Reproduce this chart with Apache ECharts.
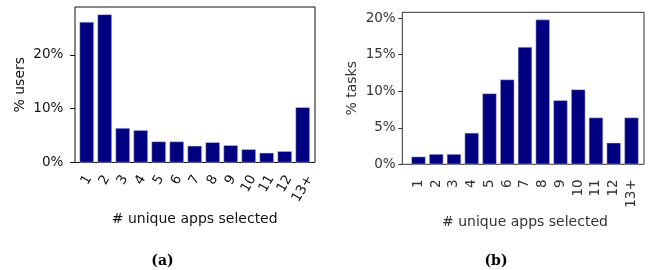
<!DOCTYPE html>
<html>
<head>
<meta charset="utf-8">
<script src="https://cdn.jsdelivr.net/npm/echarts@6/dist/echarts.min.js"></script>
<style>
  html, body { margin: 0; padding: 0; background: #fff; }
  #chart { width: 652px; height: 270px; }
</style>
</head>
<body>
<div id="chart"></div>
<script>
  // categories shared by both panels
  var categories = ['1', '2', '3', '4', '5', '6', '7', '8', '9', '10', '11', '12', '13+'];
  // (a) share of users per number of unique apps selected
  var usersPct = [26.1, 27.5, 6.4, 6.0, 3.9, 3.9, 3.1, 3.75, 3.2, 2.45, 1.8, 2.1, 10.25];
  // (b) share of tasks per number of unique apps selected
  var tasksPct = [1.05, 1.4, 1.4, 4.3, 9.7, 11.6, 16.05, 19.8, 8.75, 10.25, 6.4, 2.95, 6.4];
  var usersTicks = [0, 10, 20];
  var tasksTicks = [0, 5, 10, 15, 20];

  var barColor = '#000080';
  var font = 'DejaVu Sans';
  var tickFont = 13.5;

  function pct(v) { return v + '%'; }

  // matplotlib centres a rotated label's box under its tick and hangs it from the top;
  // echarts centres on a fixed point, so each label gets its own padding to shift it down
  var rot = 60 * Math.PI / 180;
  var lineH = tickFont * 1.164;
  var ctx = document.createElement('canvas').getContext('2d');
  ctx.font = tickFont + 'px "' + font + '"';
  function boxH(s) {
    return ctx.measureText(s).width * Math.sin(rot) + lineH * Math.cos(rot);
  }
  var labelTop = 10;
  var labelMargin = labelTop + boxH('1') / 2;
  var richA = {};
  categories.forEach(function (c, i) {
    var d = labelTop + boxH(c) / 2 - labelMargin;
    richA['c' + i] = {
      fontFamily: font, fontSize: tickFont, color: '#111',
      padding: [2 * d * Math.cos(rot), 2 * d * Math.sin(rot), 0, 0]
    };
  });

  var chart = echarts.init(document.getElementById('chart'), null, {renderer: 'canvas'});

  var option = {
    animation: false,
    grid: [
      // (a) frame + data
      {left: 75, top: 7, width: 240, height: 155.5, show: true, borderColor: '#111', borderWidth: 1, backgroundColor: 'transparent', outerBoundsMode: 'none'},
      {left: 77.7, top: 7, width: 234, height: 155.5, outerBoundsMode: 'none'},
      // (b) frame + data
      {left: 402.3, top: 12.3, width: 241.7, height: 152, show: true, borderColor: '#333', borderWidth: 1, backgroundColor: 'transparent', outerBoundsMode: 'none'},
      {left: 409.6, top: 12.3, width: 230.75, height: 152, outerBoundsMode: 'none'}
    ],
    xAxis: [
      {gridIndex: 0, type: 'value', show: false},
      {
        gridIndex: 1, type: 'category', data: categories,
        axisLine: {show: false},
        axisTick: {alignWithLabel: true, length: 5, lineStyle: {color: '#111'}},
        axisLabel: {
          rotate: 60, margin: labelMargin, align: 'center', verticalAlign: 'middle',
          fontFamily: font, fontSize: tickFont, color: '#111', interval: 0,
          formatter: function (v, i) { return '{c' + i + '|' + v + '}'; },
          rich: richA
        },
        name: '# unique apps selected', nameLocation: 'middle', nameGap: 48,
        nameTextStyle: {fontFamily: font, fontSize: 14, color: '#111'}
      },
      {gridIndex: 2, type: 'value', show: false},
      {
        gridIndex: 3, type: 'category', data: categories,
        axisLine: {show: false},
        axisTick: {alignWithLabel: true, length: 4, lineStyle: {color: '#333'}},
        axisLabel: {rotate: 90, margin: 15, fontFamily: font, fontSize: tickFont, color: '#333', interval: 0},
        name: '# unique apps selected', nameLocation: 'middle', nameGap: 42,
        nameTextStyle: {fontFamily: font, fontSize: 14, color: '#333'}
      }
    ],
    yAxis: [
      {gridIndex: 0, type: 'value', show: false},
      {
        gridIndex: 1, type: 'value', min: 0, max: 28.875, offset: 2.7,
        axisLine: {show: false},
        axisTick: {show: true, length: 5, customValues: usersTicks, lineStyle: {color: '#111'}},
        splitLine: {show: false},
        axisLabel: {formatter: pct, customValues: usersTicks, margin: 11.7, fontFamily: font, fontSize: tickFont, color: '#111'},
        name: '% users', nameLocation: 'middle', nameGap: 48,
        nameTextStyle: {fontFamily: font, fontSize: 14, color: '#111'}
      },
      {gridIndex: 2, type: 'value', show: false},
      {
        gridIndex: 3, type: 'value', min: 0, max: 20.8, offset: 7.3,
        axisLine: {show: false},
        axisTick: {show: true, length: 4, customValues: tasksTicks, lineStyle: {color: '#333'}},
        splitLine: {show: false},
        axisLabel: {formatter: pct, customValues: tasksTicks, margin: 6.6, fontFamily: font, fontSize: tickFont, color: '#333'},
        name: '% tasks', nameLocation: 'middle', nameGap: 43,
        nameTextStyle: {fontFamily: font, fontSize: 14, color: '#333'}
      }
    ],
    series: [
      {
        type: 'bar', xAxisIndex: 1, yAxisIndex: 1, data: usersPct, barWidth: '80%',
        itemStyle: {color: barColor, borderColor: '#c8c8e8', borderWidth: 0.5}
      },
      {
        type: 'bar', xAxisIndex: 3, yAxisIndex: 3, data: tasksPct, barWidth: '80%',
        itemStyle: {color: barColor, borderColor: '#c8c8e8', borderWidth: 0.5}
      }
    ],
    graphic: [
      {type: 'text', x: 162.5, y: 261, style: {text: '(a)', font: 'bold 14px "DejaVu Serif"', fill: '#000', align: 'center', verticalAlign: 'middle'}},
      {type: 'text', x: 496, y: 261, style: {text: '(b)', font: 'bold 14px "DejaVu Serif"', fill: '#000', align: 'center', verticalAlign: 'middle'}}
    ]
  };

  chart.setOption(option);
  window.addEventListener('resize', chart.resize);
</script>
</body>
</html>
